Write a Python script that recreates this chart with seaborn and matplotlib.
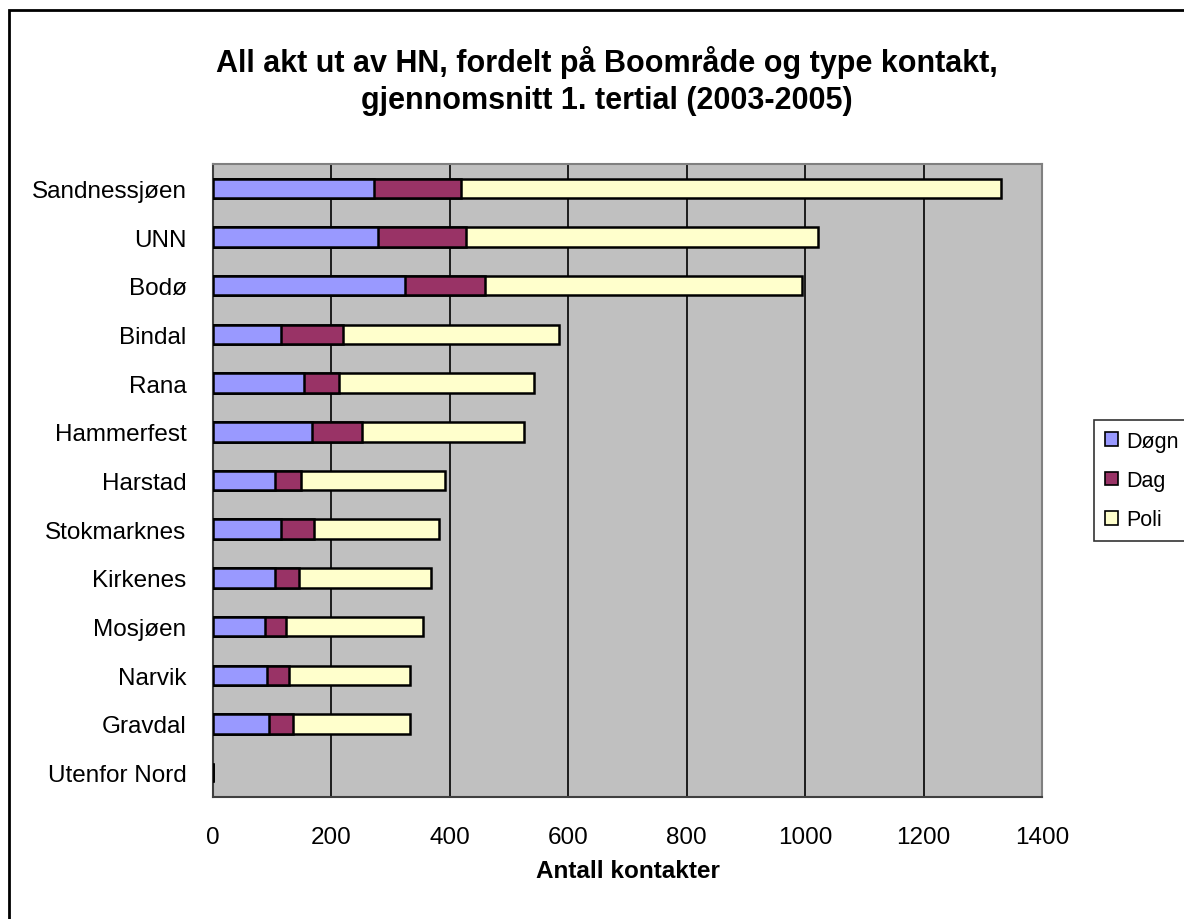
import numpy as np
import pandas as pd
import matplotlib.pyplot as plt
import seaborn as sns
from matplotlib.patches import Patch, Rectangle

# data (average contacts, 1st tertial 2003-2005)
omrade = ['Sandnessjøen', 'UNN', 'Bodø', 'Bindal', 'Rana', 'Hammerfest', 'Harstad',
          'Stokmarknes', 'Kirkenes', 'Mosjøen', 'Narvik', 'Gravdal', 'Utenfor Nord']
dogn = [272, 278, 324, 114, 154, 167, 104, 114, 104, 88, 91, 95, 0]
dag = [146, 149, 136, 106, 59, 85, 44, 57, 41, 36, 37, 40, 0]
poli = [912, 594, 534, 365, 329, 274, 243, 211, 223, 231, 204, 197, 0]
xticks = [0, 200, 400, 600, 800, 1000, 1200, 1400]

farger = {'Døgn': '#9999FF', 'Dag': '#993366', 'Poli': '#FFFFCC'}

df = pd.DataFrame({'Omrade': omrade, 'Døgn': dogn, 'Dag': dag, 'Poli': poli})
df['c1'] = df['Døgn']
df['c2'] = df['Døgn'] + df['Dag']
df['c3'] = df['c2'] + df['Poli']

sns.set_style('white')
plt.rcParams['font.family'] = ['Liberation Sans', 'DejaVu Sans']
plt.rcParams['text.color'] = 'black'
plt.rcParams['axes.labelcolor'] = 'black'
plt.rcParams['xtick.color'] = 'black'
plt.rcParams['ytick.color'] = 'black'

fig = plt.figure(figsize=(11.84, 9.2), dpi=100)
ax = fig.add_axes([213/1184, 1 - 798/920, (1042-213)/1184, (798-165)/920])
ax.set_facecolor('#C0C0C0')

# stacked bars: draw totals first, then overlay partial sums
for col, navn in [('c3', 'Poli'), ('c2', 'Dag'), ('c1', 'Døgn')]:
    sns.barplot(data=df, x=col, y='Omrade', orient='h', color=farger[navn],
                edgecolor='black', linewidth=1.8, width=0.4, saturation=1, ax=ax, zorder=3)

ax.set_xlim(0, 1400)
ax.set_ylim(12.5, -0.5)
ax.set_xticks(xticks)
ax.set_xticklabels([str(t) for t in xticks], fontsize=17.5)
ax.grid(axis='x', color='black', linewidth=1.2, zorder=0)
ax.set_axisbelow(True)

ax.set_yticks(range(len(omrade)))
ax.set_yticklabels(omrade, fontsize=17.5)
ax.set_yticks(np.arange(-0.5, len(omrade), 1), minor=True)
ax.tick_params(axis='y', which='major', length=0, pad=19)
ax.tick_params(axis='y', which='minor', length=7, width=1.2, direction='out', color='black')
ax.tick_params(axis='x', which='major', length=7, width=1.2, direction='out', color='black', pad=14)
ax.set_ylabel('')
ax.set_xlabel('Antall kontakter', fontsize=17.5, fontweight='bold', labelpad=8)

for s in ['top', 'right']:
    ax.spines[s].set_color('#808080')
    ax.spines[s].set_linewidth(1.5)
for s in ['left', 'bottom']:
    ax.spines[s].set_color('#404040')
    ax.spines[s].set_linewidth(1.5)

fig.text(607/1184, 1 - 81/920, 'All akt ut av HN, fordelt på Boområde og type kontakt,\ngjennomsnitt 1. tertial (2003-2005)',
         ha='center', va='center', fontsize=22, fontweight='bold', linespacing=1.3)

handles = [Patch(facecolor=farger[k], edgecolor='black', linewidth=1.2, label=k) for k in ['Døgn', 'Dag', 'Poli']]
leg = fig.legend(handles=handles, loc='upper left', bbox_to_anchor=(1094/1184, 1 - 421/920),
                 fontsize=15.5, frameon=True, fancybox=False, edgecolor='black',
                 handlelength=0.6, handleheight=0.6, handletextpad=0.4, labelspacing=0.85,
                 borderpad=0.5, borderaxespad=0)
leg.get_frame().set_linewidth(1.2)

# outer chart border
fig.patches.append(Rectangle((9/1184, -0.05), 1.1, 1 - 11/920 + 0.05, transform=fig.transFigure,
                             fill=False, edgecolor='black', linewidth=2, clip_on=False))

fig.savefig('out.png', dpi=100)
